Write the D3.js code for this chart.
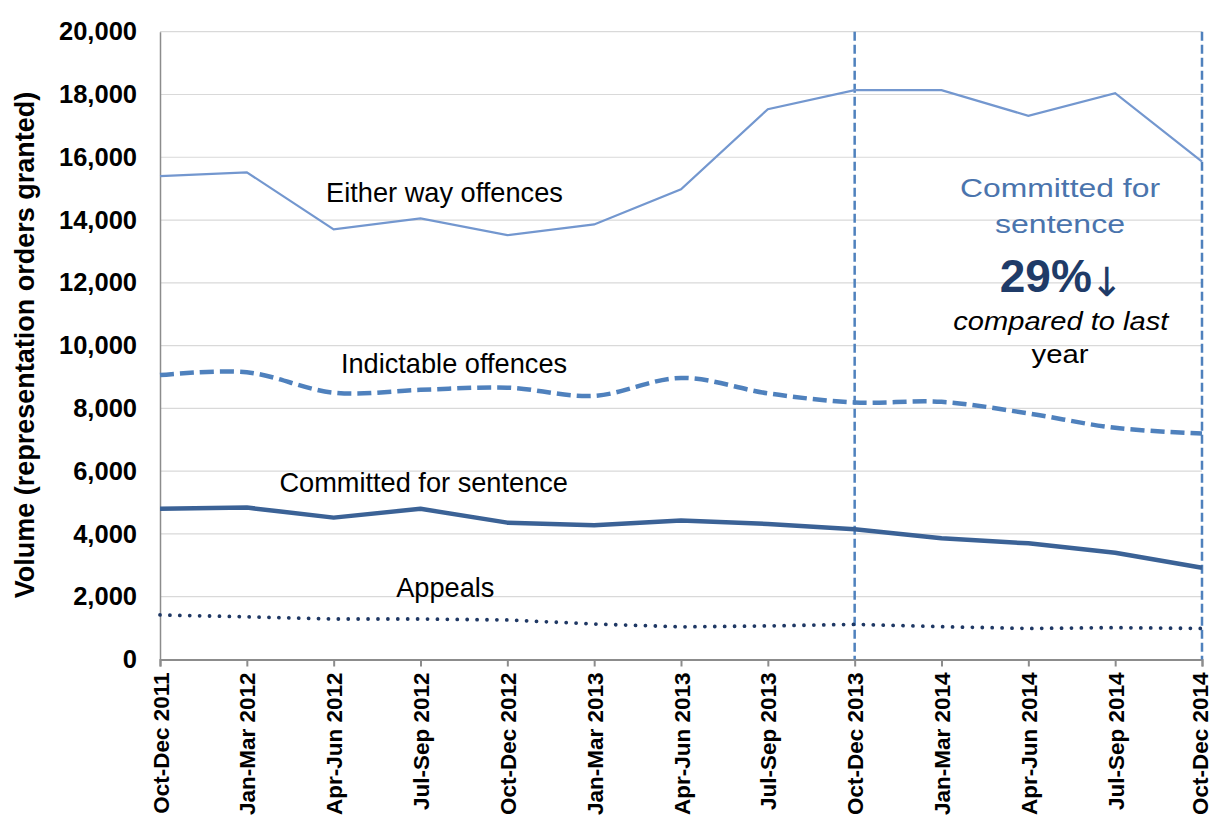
<!DOCTYPE html>
<html>
<head>
<meta charset="utf-8">
<script src="https://cdn.jsdelivr.net/npm/d3@7/dist/d3.min.js"></script>
<style>
  html, body { margin: 0; padding: 0; background: #fff; }
  svg { display: block; font-family: "Liberation Sans", Arial, sans-serif; }
</style>
</head>
<body>
<svg id="chart" width="1213" height="820"></svg>
<script>
const categories = ["Oct-Dec 2011","Jan-Mar 2012","Apr-Jun 2012","Jul-Sep 2012","Oct-Dec 2012","Jan-Mar 2013","Apr-Jun 2013","Jul-Sep 2013","Oct-Dec 2013","Jan-Mar 2014","Apr-Jun 2014","Jul-Sep 2014","Oct-Dec 2014"];
const eitherWay  = [15400, 15520, 13700, 14050, 13520, 13860, 14980, 17530, 18140, 18140, 17320, 18040, 15860];
const indictable = [9060, 9150, 8500, 8590, 8660, 8400, 8970, 8480, 8190, 8210, 7840, 7380, 7200];
const committed  = [4800, 4840, 4520, 4800, 4360, 4280, 4430, 4320, 4150, 3860, 3700, 3400, 2920];
const appeals    = [1420, 1360, 1290, 1290, 1260, 1130, 1040, 1070, 1120, 1045, 990, 1015, 990];
const yTicks = [0, 2000, 4000, 6000, 8000, 10000, 12000, 14000, 16000, 18000, 20000];
const markedPeriods = ["Oct-Dec 2013", "Oct-Dec 2014"];
const yTitle = "Volume (representation orders granted)";

const svg = d3.select("#chart");
const x = d3.scalePoint().domain(categories).range([160, 1202]);
const y = d3.scaleLinear().domain([0, 20000]).range([659.5, 31.7]);

// gridlines
svg.append("g").selectAll("line").data(yTicks.filter(d => d > 0)).join("line")
  .attr("x1", 160).attr("x2", 1202)
  .attr("y1", d => y(d)).attr("y2", d => y(d))
  .attr("stroke", "#d9d9d9").attr("stroke-width", 1.2);

// y axis
const yAxis = svg.append("g").attr("transform", "translate(160,0)")
  .call(d3.axisLeft(y).tickValues(yTicks).tickFormat(d3.format(",")).tickSize(0).tickPadding(23));
yAxis.select(".domain").attr("stroke", "#8c8c8c").attr("stroke-width", 1.5);
yAxis.selectAll("text").attr("font-size", 25.5).attr("font-weight", "bold").attr("fill", "#000")
  .attr("font-family", "Liberation Sans, Arial, sans-serif");

// x axis
const xAxis = svg.append("g").attr("transform", `translate(0,${y(0)})`)
  .call(d3.axisBottom(x).tickSize(7).tickPadding(6));
xAxis.select(".domain").attr("stroke", "#8c8c8c").attr("stroke-width", 2);
xAxis.selectAll(".tick line").attr("stroke", "#8c8c8c").attr("stroke-width", 2);
xAxis.selectAll("text")
  .attr("font-size", 22.5).attr("font-weight", "bold").attr("fill", "#000")
  .attr("font-family", "Liberation Sans, Arial, sans-serif")
  .attr("transform", "rotate(-90)")
  .attr("text-anchor", "end")
  .attr("x", -13)
  .attr("y", (d, i) => i === categories.length - 1 ? -3 : 0)
  .attr("dy", "0.36em");

// y title
svg.append("text")
  .attr("transform", "translate(34,345) rotate(-90)")
  .attr("text-anchor", "middle")
  .attr("font-size", 27).attr("font-weight", "bold")
  .text(yTitle);

// vertical dashed markers
svg.append("g").selectAll("line").data(markedPeriods).join("line")
  .attr("x1", d => x(d)).attr("x2", d => x(d))
  .attr("y1", y(20000)).attr("y2", y(0))
  .attr("stroke", "#4f81bd").attr("stroke-width", 2.5)
  .attr("stroke-dasharray", "9,4");

function lineGen(curve) {
  return d3.line().x((d, i) => x(categories[i])).y(d => y(d)).curve(curve);
}

svg.append("path").datum(eitherWay)
  .attr("d", lineGen(d3.curveLinear))
  .attr("fill", "none").attr("stroke", "#7397cf").attr("stroke-width", 2.2);

svg.append("path").datum(indictable)
  .attr("d", lineGen(d3.curveCatmullRom.alpha(0.5)))
  .attr("fill", "none").attr("stroke", "#4f81bd").attr("stroke-width", 4.5)
  .attr("stroke-dasharray", "14,6");

svg.append("path").datum(committed)
  .attr("d", lineGen(d3.curveLinear))
  .attr("fill", "none").attr("stroke", "#3b6296").attr("stroke-width", 4.5)
  .attr("stroke-linejoin", "round");

svg.append("path").datum(appeals)
  .attr("d", lineGen(d3.curveLinear))
  .attr("fill", "none").attr("stroke", "#1f3864").attr("stroke-width", 3.8)
  .attr("stroke-linecap", "round").attr("stroke-dasharray", "0.01,9.9");

// series labels
const labels = [
  {t: "Either way offences", x: 444.5, y: 202},
  {t: "Indictable offences", x: 454, y: 373},
  {t: "Committed for sentence", x: 423.7, y: 491.5},
  {t: "Appeals", x: 445.3, y: 596.5}
];
svg.append("g").selectAll("text").data(labels).join("text")
  .attr("x", d => d.x).attr("y", d => d.y)
  .attr("text-anchor", "middle").attr("font-size", 27.2).attr("fill", "#000")
  .text(d => d.t);

// right annotation
const ann = svg.append("g");
ann.append("text").attr("x", 1060).attr("y", 196.5).attr("text-anchor", "middle")
  .attr("font-size", 26).attr("fill", "#4a74ad")
  .attr("textLength", 200).attr("lengthAdjust", "spacingAndGlyphs")
  .text("Committed for");
ann.append("text").attr("x", 1060).attr("y", 233.3).attr("text-anchor", "middle")
  .attr("font-size", 26).attr("fill", "#4a74ad")
  .attr("textLength", 130).attr("lengthAdjust", "spacingAndGlyphs")
  .text("sentence");
ann.append("text").attr("x", 1045.8).attr("y", 291.7).attr("text-anchor", "middle")
  .attr("font-size", 46).attr("font-weight", "bold").attr("fill", "#1f3b68")
  .text("29%");
ann.append("text").attr("x", 1106.7).attr("y", 296).attr("text-anchor", "middle")
  .attr("font-size", 40).attr("fill", "#1f3b68")
  .attr("font-family", "DejaVu Sans, sans-serif")
  .text("↓");
ann.append("text").attr("x", 1060.8).attr("y", 330).attr("text-anchor", "middle")
  .attr("font-size", 25).attr("font-style", "italic").attr("fill", "#000")
  .attr("textLength", 215).attr("lengthAdjust", "spacingAndGlyphs")
  .text("compared to last");
ann.append("text").attr("x", 1060).attr("y", 363.3).attr("text-anchor", "middle")
  .attr("font-size", 26).attr("fill", "#000")
  .attr("textLength", 57).attr("lengthAdjust", "spacingAndGlyphs")
  .text("year");
</script>
</body>
</html>
